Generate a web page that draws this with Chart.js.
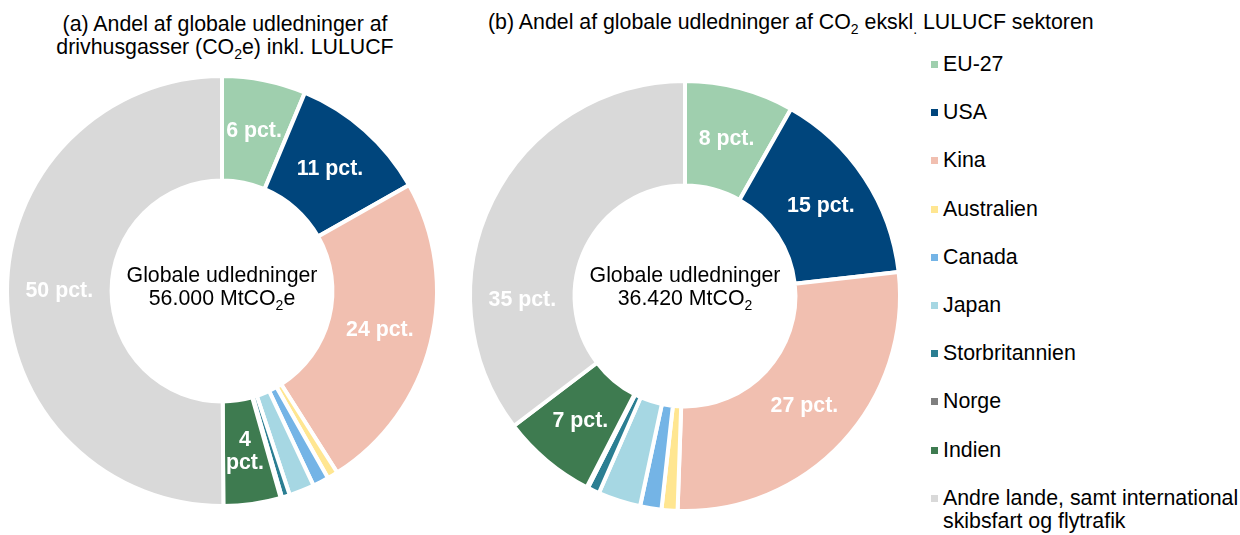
<!DOCTYPE html>
<html lang="da">
<head>
<meta charset="utf-8">
<title>Andel af globale udledninger</title>
<script src="https://cdn.jsdelivr.net/npm/chart.js@4.4.1/dist/chart.umd.min.js"></script>
<style>
  html, body { margin: 0; padding: 0; background: #fff; }
  body { font-family: "Liberation Sans", Arial, Helvetica, sans-serif; color: #000; }
  #wrap { position: relative; width: 1240px; height: 535px; overflow: hidden; background: #fff; }
  .title { position: absolute; font-size: 21.33px; line-height: 23px; white-space: nowrap; }
  .title sub { font-size: 14px; vertical-align: -5px; line-height: 0; }
  #titleA { left: 0; width: 450px; top: 13px; text-align: center; }
  #titleB { left: 488px; top: 11px; }
  .chartBox { position: absolute; width: 444px; height: 460px; }
  #boxA { left: 0; top: 61px; }
  #boxB { left: 463px; top: 66px; }
  #legend { position: absolute; left: 931px; top: 53px; width: 309px; }
  .item { position: absolute; left: 0; font-size: 21.33px; line-height: 23px; white-space: pre-line; padding-left: 12px; }
  .swatch { position: absolute; left: 0; top: 8px; width: 7px; height: 7px; }
</style>
</head>
<body>
<div id="wrap">
  <div class="title" id="titleA">(a) Andel af globale udledninger af<br>drivhusgasser (CO<sub>2</sub>e) inkl. LULUCF</div>
  <div class="title" id="titleB">(b) Andel af globale udledninger af CO<sub>2</sub> ekskl<sub>.</sub> LULUCF sektoren</div>
  <div class="chartBox" id="boxA"><canvas id="chartA" width="444" height="460"></canvas></div>
  <div class="chartBox" id="boxB"><canvas id="chartB" width="444" height="460"></canvas></div>
  <div id="legend"></div>
</div>
<script>
// Regions, in legend order
const regions = [
  'EU-27', 'USA', 'Kina', 'Australien', 'Canada', 'Japan',
  'Storbritannien', 'Norge', 'Indien',
  'Andre lande, samt international\nskibsfart og flytrafik'
];

// (a) Share of global greenhouse gas emissions incl. LULUCF, per cent
const sharesGhgInclLulucf = [6.3, 10.5, 24.2, 0.8, 1.2, 1.9, 0.6, 0.1, 4.3, 50.1];

// (b) Share of global CO2 emissions excl. LULUCF, per cent
const sharesCo2ExclLulucf = [8.2, 15.0, 27.3, 1.2, 1.6, 3.2, 0.9, 0.1, 7.1, 35.3];

// Totals shown in the doughnut holes
const totalA = [[{ t: 'Globale udledninger' }], [{ t: '56.000 MtCO' }, { t: '2', sub: true }, { t: 'e' }]];
const totalB = [[{ t: 'Globale udledninger' }], [{ t: '36.420 MtCO' }, { t: '2', sub: true }]];

const palette = [
  '#9fcfae', '#00457c', '#f1bfb0', '#ffe691', '#74b4e6',
  '#a6d7e3', '#2b7e92', '#7f7f7f', '#3e7b50', '#d9d9d9'
];

const FONT = '"Liberation Sans", Arial, Helvetica, sans-serif';

// Legend
const legend = document.getElementById('legend');
regions.forEach((name, i) => {
  const el = document.createElement('div');
  el.className = 'item';
  el.style.top = (i * 48.2) + 'px';
  const sw = document.createElement('span');
  sw.className = 'swatch';
  sw.style.background = palette[i];
  el.appendChild(sw);
  el.appendChild(document.createTextNode(name));
  legend.appendChild(el);
});

// White "NN pct." labels in the middle of the ring (only for the larger slices)
const sliceLabels = {
  id: 'sliceLabels',
  afterDatasetsDraw(chart, args, opts) {
    const ctx = chart.ctx;
    const meta = chart.getDatasetMeta(0);
    const data = chart.data.datasets[0].data;
    ctx.save();
    ctx.font = 'bold 21.33px ' + FONT;
    ctx.fillStyle = '#ffffff';
    ctx.textAlign = 'center';
    ctx.textBaseline = 'middle';
    meta.data.forEach((arc, i) => {
      const v = data[i];
      if (v < opts.minValue) return;
      const p = arc.getProps(['x', 'y', 'startAngle', 'endAngle', 'innerRadius', 'outerRadius'], true);
      const shift = ((opts.angleShift && opts.angleShift[i]) || 0) * Math.PI / 180;
      const a = (p.startAngle + p.endAngle) / 2 + shift;
      const r = (p.innerRadius + p.outerRadius) / 2;
      const x = p.x + Math.cos(a) * r;
      const y = p.y + Math.sin(a) * r;
      const text = Math.round(v) + ' pct.';
      const room = (p.endAngle - p.startAngle) * r;
      if (ctx.measureText(text).width > room) {
        const parts = text.split(' ');
        ctx.fillText(parts[0], x, y - 11.5);
        ctx.fillText(parts[1], x, y + 11.5);
      } else {
        ctx.fillText(text, x, y);
      }
    });
    ctx.restore();
  }
};

// Two-line total in the hole, with subscripts
const centerTotal = {
  id: 'centerTotal',
  afterDraw(chart, args, opts) {
    const ctx = chart.ctx;
    const arc = chart.getDatasetMeta(0).data[0];
    const mainFont = '21.33px ' + FONT;
    const subFont = '14px ' + FONT;
    ctx.save();
    ctx.fillStyle = '#000000';
    ctx.textAlign = 'left';
    ctx.textBaseline = 'alphabetic';
    opts.lines.forEach((segs, li) => {
      let w = 0;
      segs.forEach(s => { ctx.font = s.sub ? subFont : mainFont; w += ctx.measureText(s.t).width; });
      let x = arc.x - w / 2;
      const y = arc.y + opts.baselines[li];
      segs.forEach(s => {
        ctx.font = s.sub ? subFont : mainFont;
        ctx.fillText(s.t, x, y + (s.sub ? 5 : 0));
        x += ctx.measureText(s.t).width;
      });
    });
    ctx.restore();
  }
};

function makeDoughnut(canvasId, shares, total, baselines, angleShift) {
  return new Chart(document.getElementById(canvasId), {
    type: 'doughnut',
    data: {
      labels: regions,
      datasets: [{
        data: shares,
        backgroundColor: palette,
        borderColor: '#ffffff',
        borderWidth: 4,
        hoverOffset: 0
      }]
    },
    options: {
      responsive: false,
      animation: false,
      radius: 215,
      cutout: 113,
      layout: { padding: 0 },
      events: [],
      plugins: {
        legend: { display: false },
        tooltip: { enabled: false },
        sliceLabels: { minValue: 4, angleShift: angleShift },
        centerTotal: { lines: total, baselines: baselines }
      }
    },
    plugins: [sliceLabels, centerTotal]
  });
}

makeDoughnut('chartA', sharesGhgInclLulucf, totalA, [-9, 14], {});
makeDoughnut('chartB', sharesCo2ExclLulucf, totalB, [-14, 9], { 9: -28 });
</script>
</body>
</html>
